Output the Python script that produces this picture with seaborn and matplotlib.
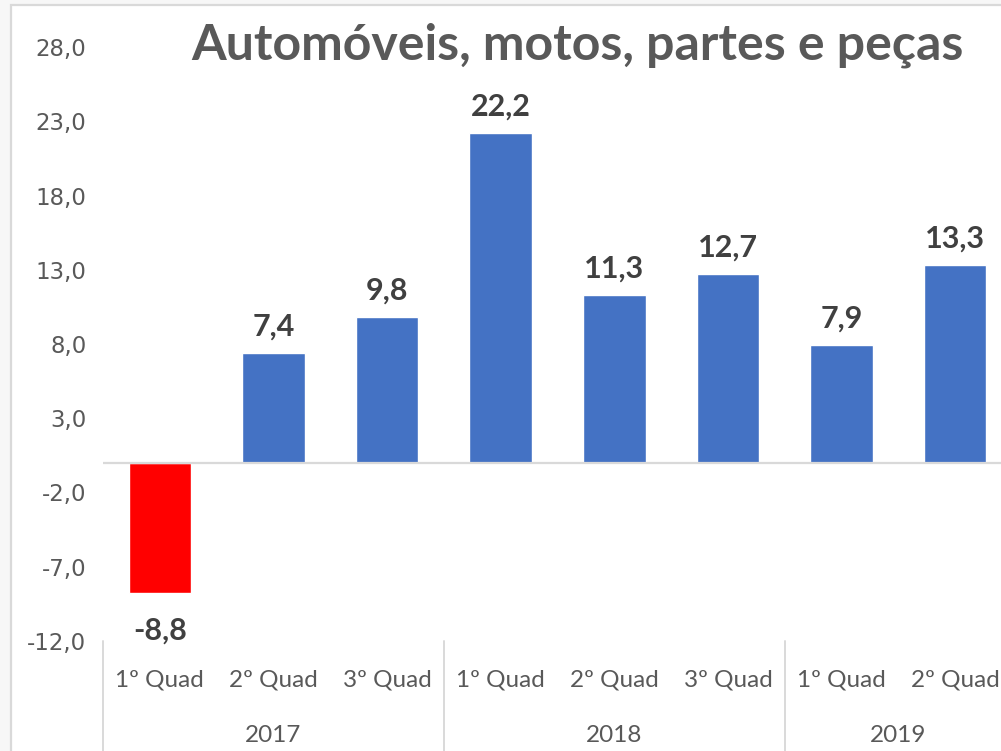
import matplotlib
matplotlib.use("Agg")
import matplotlib.pyplot as plt
import matplotlib.patches as mpatches
import matplotlib.transforms as mtransforms
import seaborn as sns
import pandas as pd

years = ["2017", "2018", "2019"]
quarters = ["1º Quad", "2º Quad", "3º Quad", "1º Quad", "2º Quad", "3º Quad", "1º Quad", "2º Quad"]
year_of_bar = ["2017", "2017", "2017", "2018", "2018", "2018", "2019", "2019"]
values = [-8.8, 7.4, 9.8, 22.2, 11.3, 12.7, 7.9, 13.3]
title = "Automóveis, motos, partes e peças"
yticks = [-12, -7, -2, 3, 8, 13, 18, 23, 28]

BLUE = "#4472C4"
RED = "#FF0000"
colors = [RED if v < 0 else BLUE for v in values]

df = pd.DataFrame({"key": [f"{y} {q}" for y, q in zip(year_of_bar, quarters)],
                   "value": values})

sns.set_theme(style="white")
plt.rcParams["font.family"] = ["Lato", "DejaVu Sans"]

W, H = 1001, 751
fig = plt.figure(figsize=(W / 100, H / 100), dpi=100)
fig.patch.set_facecolor("#F7F7F7")
bg = mpatches.Rectangle((11 / W, -0.1), 1.2, 1.1 - 5 / H, transform=fig.transFigure,
                        facecolor="white", edgecolor="#D9D9D9", linewidth=1.6, zorder=-10)
fig.patches.append(bg)

left, right, top, bottom = 103, 1012, 47, 641
ax = fig.add_axes([left / W, 1 - bottom / H, (right - left) / W, (bottom - top) / H])
ax.set_facecolor("none")
ax.set_zorder(5)

sns.barplot(data=df, x="key", y="value", hue="key", palette=colors, legend=False,
            width=0.55, ax=ax, saturation=1)

ax.set_xlim(-0.5, len(values) - 0.5)
ax.set_ylim(-12, 28)
ax.set_yticks(yticks)
ax.set_yticklabels([f"{t:.1f}".replace(".", ",") for t in yticks],
                   fontsize=16.5, color="#595959", family="DejaVu Sans")
ax.tick_params(axis="y", length=0, pad=12)
ax.set_xticks([])
ax.set_xlabel("")
ax.set_ylabel("")
for s in ax.spines.values():
    s.set_visible(False)
ax.axhline(0, color="#D9D9D9", linewidth=1.6, zorder=1)

# data labels
for i, v in enumerate(values):
    txt = f"{v:.1f}".replace(".", ",")
    if v >= 0:
        ax.annotate(txt, (i, v), xytext=(0, 9), textcoords="offset points", ha="center", va="bottom",
                    fontsize=22, fontweight="bold", color="#404040")
    else:
        ax.annotate(txt, (i, v), xytext=(0, -17), textcoords="offset points", ha="center", va="top",
                    fontsize=22, fontweight="bold", color="#404040")

# two-level category axis
ph = bottom - top
trans = mtransforms.blended_transform_factory(ax.transData, ax.transAxes)
for i, q in enumerate(quarters):
    ax.text(i, -(680 - bottom) / ph, q, transform=trans, ha="center", va="center",
            fontsize=17.5, color="#595959")
start = 0
for y in years:
    n = year_of_bar.count(y)
    ax.plot([start - 0.5, start - 0.5], [0, -(H + 20 - bottom) / ph], transform=trans,
            color="#D9D9D9", linewidth=1.4, clip_on=False)
    ax.text(start + (n - 1) / 2, -(735 - bottom) / ph, y, transform=trans, ha="center", va="center",
            fontsize=17.5, color="#595959")
    start += n

fig.text(577 / W, 1 - 45 / H, title, ha="center", va="center", fontsize=36,
         fontweight="bold", color="#595959")

fig.savefig("out.png", dpi=100, facecolor=fig.get_facecolor())
